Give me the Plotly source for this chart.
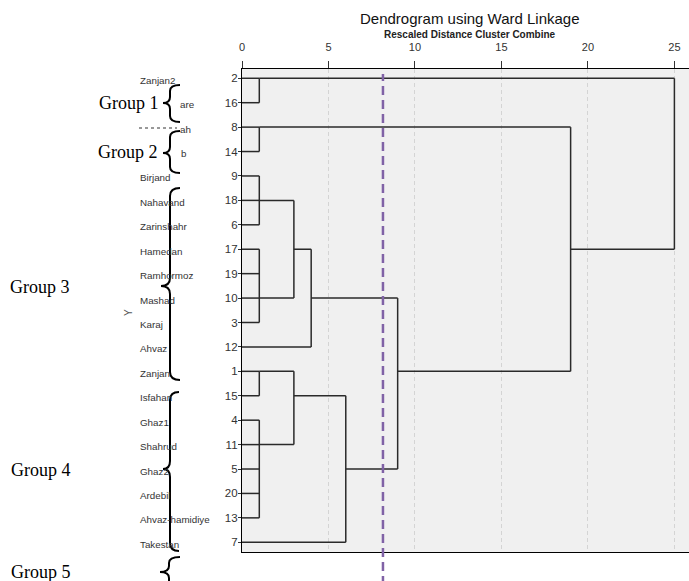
import plotly.graph_objects as go

# ---------------- data ----------------
leaf_ids = [2, 16, 8, 14, 9, 18, 6, 17, 19, 10, 3, 12, 1, 15, 4, 11, 5, 20, 13, 7]
leaf_names = ["Zanjan2", "are", "ah", "b", "Birjand", "Nahavand", "Zarinshahr",
              "Hamedan", "Ramhormoz", "Mashad", "Karaj", "Ahvaz", "Zanjan",
              "Isfahan", "Ghaz1", "Shahrud", "Ghaz2", "Ardebil",
              "Ahvaz-hamidiye", "Takestan"]
# merges: node ids 0..19 are leaves (row index), 20+j is merge j
merge_children = [[0, 1], [2, 3], [4, 5, 6], [7, 8, 9, 10], [22, 23], [24, 11],
                  [12, 13], [14, 15, 16, 17, 18], [26, 27], [28, 19], [25, 29],
                  [21, 30], [20, 31]]
merge_heights = [1, 1, 1, 1, 3, 4, 1, 1, 3, 6, 9, 19, 25]
merge_rows = [0, 2, 5, 9, 7, 9, 12, 15, 13, 16, 12, 7, None]
cut_value = 8.15
x_ticks = [0, 5, 10, 15, 20, 25]
group_labels = ["Group 1", "Group 2", "Group 3", "Group 4", "Group 5"]

# ---------------- geometry helpers (pixel -> paper) ----------------
W, H = 689, 581
L, R, T, B = 242, 0, 69, 29
PW, PH = W - L - R, H - T - B


def px(x):
    return (x - L) / PW


def py(y):
    return (H - B - y) / PH


def node_row(n):
    return n if n < 20 else merge_rows[n - 20]


def node_h(n):
    return 0 if n < 20 else merge_heights[n - 20]


xs, ys = [], []
for j, ch in enumerate(merge_children):
    h = merge_heights[j]
    rows = [node_row(c) for c in ch]
    for c in ch:
        xs += [node_h(c), h, None]
        ys += [node_row(c), node_row(c), None]
    xs += [h, h, None]
    ys += [min(rows), max(rows), None]

fig = go.Figure()
fig.add_trace(go.Scatter(x=xs, y=ys, mode="lines",
                         line=dict(color="#2a2a2a", width=1.5),
                         hoverinfo="skip", showlegend=False))

sans = "Liberation Sans, Arial"
annotations = []
# leaf names
name_x = {1: 177.5, 2: 177.5, 3: 178.5}
for i, nm in enumerate(leaf_names):
    annotations.append(dict(text=nm, xref="paper", x=px(name_x.get(i, 137.5)),
                            xanchor="left", yanchor="middle", yref="y", y=i, yshift=-2,
                            showarrow=False,
                            font=dict(family=sans, size=9.8, color="#333")))
# Y axis title
annotations.append(dict(text="Y", xref="paper", x=px(128), yref="paper", y=py(312),
                        xanchor="center", yanchor="middle",
                        textangle=-90, showarrow=False,
                        font=dict(family=sans, size=10, color="#555")))
# titles
annotations.append(dict(text="Dendrogram using Ward Linkage", xref="paper", x=px(470),
                        yref="paper", y=py(19), xanchor="center", yanchor="middle",
                        showarrow=False,
                        font=dict(family=sans, size=15, color="#111")))
annotations.append(dict(text="<b>Rescaled Distance Cluster Combine</b>", xref="paper",
                        x=px(470), yref="paper", y=py(35), xanchor="center",
                        yanchor="middle", showarrow=False,
                        font=dict(family=sans, size=10, color="#222")))
# group labels
group_pos = [(97, 103), (96, 152), (8, 287), (9, 470), (9, 572)]
for g, (gx, gy) in zip(group_labels, group_pos):
    annotations.append(dict(text=g, xref="paper", x=px(gx), xanchor="left",
                            yref="paper", y=py(gy), yanchor="middle", showarrow=False,
                            font=dict(family="Liberation Serif", size=18, color="black")))


def brace(xr, xv, xt, yt, yb, ym, r=7):
    def P(a, b):
        return f"{px(a):.5f},{py(b):.5f}"
    return ("M " + P(xr, yt) + " Q " + P(xv, yt) + " " + P(xv, yt + r) +
            " L " + P(xv, ym - r) + " Q " + P(xv, ym) + " " + P(xt, ym) +
            " Q " + P(xv, ym) + " " + P(xv, ym + r) +
            " L " + P(xv, yb - r) + " Q " + P(xv, yb) + " " + P(xr, yb))


braces = [(180, 170, 163, 85, 122, 103, 6), (180, 170, 163, 131, 173, 153, 6),
          (180, 170, 161, 188, 380, 286, 8), (179, 170, 163, 392, 551, 469, 8),
          (180, 169, 160, 557, 640, 572, 6)]
shapes = []
for b in braces:
    shapes.append(dict(type="path", xref="paper", yref="paper", path=brace(*b),
                       line=dict(color="black", width=2)))
# dotted cover line on row 2 name
shapes.append(dict(type="line", xref="paper", yref="paper", x0=px(139), x1=px(177),
                   y0=py(128), y1=py(128), line=dict(color="#333", width=1, dash="dot")))
# cut line
shapes.append(dict(type="line", xref="x", yref="paper", x0=cut_value, x1=cut_value,
                   y0=py(585), y1=py(74), line=dict(color="#8062a6", width=2.5,
                                                     dash="9px,5px")))

fig.update_layout(
    width=W, height=H,
    margin=dict(l=L, r=R, t=T, b=B, autoexpand=False),
    paper_bgcolor="white", plot_bgcolor="#f0f0f0",
    showlegend=False,
    annotations=annotations, shapes=shapes,
    xaxis=dict(side="top", range=[0, (W - L - R) / (674.7 - 242.3) * 25],
               tickvals=x_ticks, ticks="outside", ticklen=7, tickcolor="#333",
               ticklabelstandoff=5,
               tickfont=dict(family=sans, size=11, color="#333"),
               showline=True, linecolor="black", linewidth=1.3, mirror=True,
               showgrid=True, gridcolor="#d4d4d4", griddash="4px,3px", gridwidth=1,
               zeroline=False, fixedrange=True),
    yaxis=dict(range=[(H - B - T - 9.3) / 24.42, -0.38],
               tickvals=list(range(len(leaf_ids))), ticktext=[str(v) for v in leaf_ids],
               ticks="outside", ticklen=3, tickcolor="#333", ticklabelstandoff=-2,
               tickfont=dict(family=sans, size=11.5, color="#333"),
               showline=True, linecolor="black", linewidth=1.3,
               showgrid=False, zeroline=False, fixedrange=True),
)

fig.write_html("out.html", config={"displayModeBar": False},
               post_script="document.body.style.margin='0';")
